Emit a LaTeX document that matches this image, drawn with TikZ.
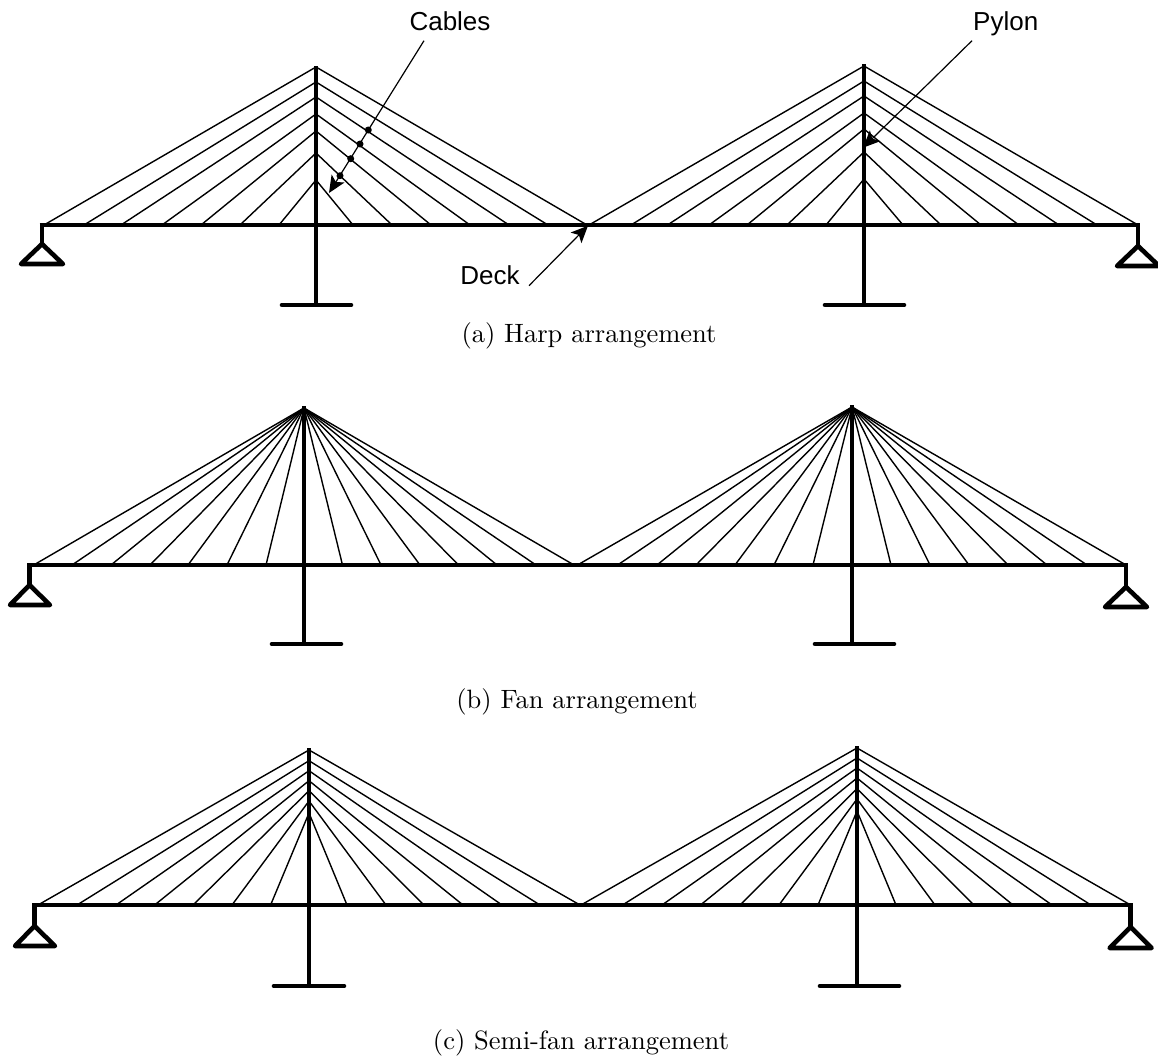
\documentclass[tikz,border=0pt]{standalone}
\usepackage{fontspec}
\newfontfamily\labelfont{Liberation Sans}
\usetikzlibrary{arrows.meta}
\tikzset{
  thick line/.style={line width=4.6pt,line cap=butt},
  foot line/.style={line width=4.6pt,line cap=round},
  support line/.style={line width=4.6pt,line join=round,line cap=round},
  cable line/.style={line width=1.4pt},
  lead line/.style={line width=1.2pt,-{Stealth[length=17pt,width=15pt,inset=4pt]}},
  part label/.style={font=\labelfont\fontsize{26}{30}\selectfont,anchor=base,inner sep=0pt},
  caption label/.style={font=\fontsize{10}{12}\selectfont,anchor=base,inner sep=0pt,transform shape,scale=2.65},
  cable dot/.style={circle,fill=black,inner sep=0pt,minimum size=7pt}
}
\newcommand{\deckandsupports}[9]{%
  \draw[thick line] (#1-2.3,#3) -- (#2+2.3,#3);
  \draw[thick line] (#1,#3) -- (#1,#4);
  \draw[support line] (#1,#4) -- (#5,#6) -- (#7,#6) -- cycle;
  \draw[thick line] (#2,#3) -- (#2,#8);
  \draw[support line] (#2,#8) -- (#2-21,#9) -- (#2+21,#9) -- cycle;
}
\newcommand{\towerline}[5]{%
  \draw[thick line] (#1,#2) -- (#1,#3);
  \draw[foot line] (#4,#3) -- (#5,#3);
}
\begin{document}
\begin{tikzpicture}[x=1pt,y=-1pt]
\useasboundingbox (0,0) rectangle (1158,1057);
\fill[white] (0,0) rectangle (1158,1057);
%% ---- (a) Harp
\foreach \xa/\ya in {44/67,84/82,121/97,162/114,201/131,240/153,279/180,353/180,392/153,431/131,470/114,509/97,548/82,587/67}
  \draw[cable line] (\xa,225) -- (316,\ya);
\foreach \xa/\ya in {589/66,631/81,667.5/96,709/113,747/129,787/152,826/179,903/179,941/152,981/129,1019/113,1059/96,1097/81,1138/66}
  \draw[cable line] (\xa,225) -- (864,\ya);
\deckandsupports{42}{1138}{225}{244}{21}{264}{63}{246}{266}
\towerline{316}{66}{305}{282}{351}
\towerline{864}{64}{305}{825}{904}
%% ---- (b) Fan
\foreach \xa in {33.7,72,111,150,188,227,266,342.5,381,420,458.5,497,536,574}
  \draw[cable line] (\xa,565) -- (304,408);
\foreach \xa in {577.5,617.6,657,696,735,774,813,891,930,969,1008,1047,1087,1126}
  \draw[cable line] (\xa,565) -- (852,407);
\deckandsupports{29.5}{1126}{565}{585}{10}{605}{50}{587}{607}
\towerline{304}{406}{644}{272}{341}
\towerline{852}{405}{644}{815}{894}
%% ---- (c) Semi-fan
\foreach \xa/\ya in {38/750,77/760.7,116/770.7,154.6/780.7,193/790.7,232/801,270.6/813,347/813,386/801,424/790.7,463/780.7,502/770.7,540/760.7,580/750}
  \draw[cable line] (\xa,905) -- (309,\ya);
\foreach \xa/\ya in {581/748,622.5/758,662/768,700.5/778,740/788.7,779/799,818/811,896/811,935/799,974/788.7,1013/778,1052/768,1091/758,1130.6/748}
  \draw[cable line] (\xa,905) -- (857,\ya);
\deckandsupports{34.5}{1130.6}{905}{926}{15}{946}{55}{927}{948}
\towerline{309}{748}{986}{274}{344}
\towerline{857}{746}{986}{820}{899}
%% ---- labels
\node[part label] (cables) at (450,30.7) {Cables};
\node[part label] (pylon) at (1005.7,30.7) {Pylon};
\node[part label] (deck) at (490,284) {Deck};
\node[caption label] (capa) at (589,342) {(a) Harp arrangement};
\node[caption label] (capb) at (577,708) {(b) Fan arrangement};
\node[caption label] (capc) at (581,1049) {(c) Semi-fan arrangement};
%% ---- leaders
\coordinate (cablesfrom) at (424,40.7);
\coordinate (cablesto) at (329,193);
\coordinate (pylonfrom) at (972,40.7);
\coordinate (pylonto) at (863,147.7);
\coordinate (deckfrom) at (529,285.7);
\coordinate (deckto) at (588,225.7);
\draw[lead line] (cablesfrom) -- (cablesto);
\draw[lead line] (pylonfrom) -- (pylonto);
\draw[lead line] (deckfrom) -- (deckto);
\node[cable dot] (dota) at (368.3,130) {};
\node[cable dot] (dotb) at (360,144) {};
\node[cable dot] (dotc) at (350.7,158.7) {};
\node[cable dot] (dotd) at (340,175.7) {};
\end{tikzpicture}
\end{document}
